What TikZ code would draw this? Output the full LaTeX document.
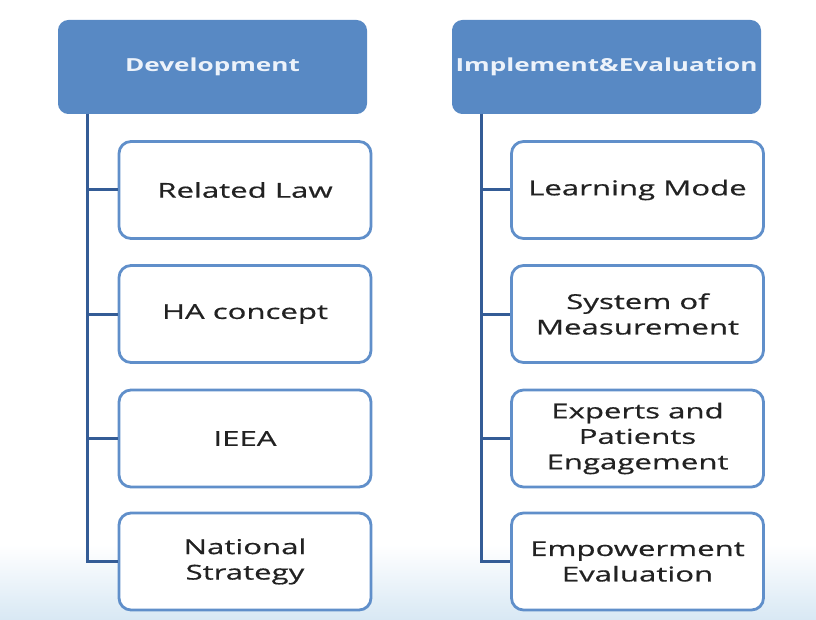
\documentclass[tikz,border=0pt]{standalone}
\usepackage{fontspec}
\setmainfont{Open Sans}
\newfontfamily\childfont[FakeStretch=1.52,FakeBold=0.6]{Open Sans}
\newfontfamily\headfont[FakeStretch=1.45]{Open Sans}
\definecolor{headfill}{RGB}{88,137,196}
\definecolor{linecol}{RGB}{52,92,150}
\definecolor{boxline}{RGB}{96,143,202}
\definecolor{txt}{RGB}{34,34,34}
\definecolor{headtxt}{RGB}{236,242,250}
\definecolor{bgblue}{RGB}{216,232,244}
\tikzset{
  headbox/.style={draw=headfill, fill=headfill, rounded corners=10pt, line width=1pt,
    minimum width=308pt, minimum height=93pt, inner sep=0pt,
    font=\headfont\bfseries\fontsize{18}{21}\selectfont, text=headtxt},
  childbox/.style={draw=boxline, fill=white, rounded corners=12pt, line width=2.8pt,
    minimum width=252pt, minimum height=97pt, inner sep=0pt, align=center,
    font=\childfont\fontsize{20.5}{25.5}\selectfont, text=txt},
  conn/.style={draw=linecol, line width=3pt}
}
\begin{document}
\begin{tikzpicture}[x=1pt,y=-1pt]
\useasboundingbox (0,0) rectangle (816,620);
\shade[top color=white, bottom color=bgblue] (0,545) rectangle (816,620);
% headers
\node[headbox] (h1) at (212.5,67) {Development};
\node[headbox] (h2) at (606.5,67) {Implement\&Evaluation};
% children left
\node[childbox] (a1) at (245,190) {Related Law};
\node[childbox] (a2) at (245,314) {HA concept};
\node[childbox] (a3) at (245,438.5) {IEEA};
\node[childbox] (a4) at (245,561.5) {National\\Strategy};
% children right
\node[childbox] (b1) at (637.5,190) {Learning Mode};
\node[childbox] (b2) at (637.5,314) {System of\\Measurement};
\node[childbox] (b3) at (637.5,438.5) {Experts and\\Patients\\Engagement};
\node[childbox] (b4) at (637.5,561.5) {Empowerment\\Evaluation};
% connectors
\coordinate (l1) at (87,114);
\coordinate (l2) at (481,114);
\foreach \c in {a1,a2,a3,a4} \draw[conn] (l1) |- (\c.west);
\foreach \c in {b1,b2,b3,b4} \draw[conn] (l2) |- (\c.west);
\end{tikzpicture}
\end{document}
